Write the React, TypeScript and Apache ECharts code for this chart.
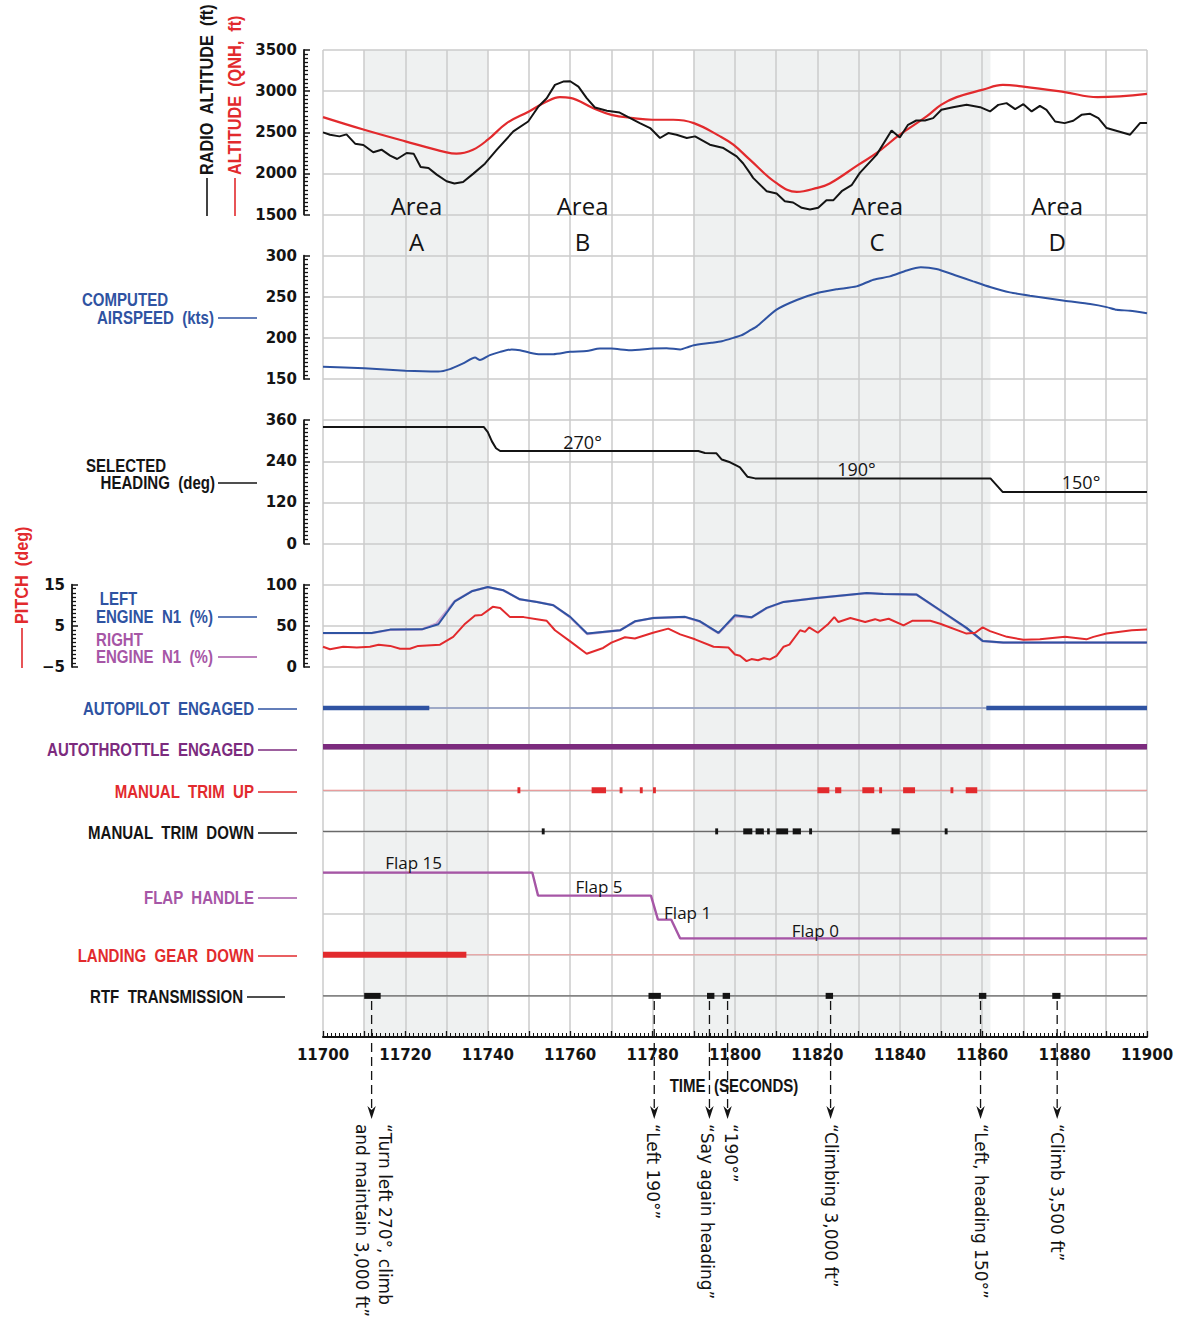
import React, { useEffect, useRef } from 'react';
import * as echarts from 'echarts';

// ---------------- DATA ----------------
const TIME_MIN = 11700;
const TIME_MAX = 11900;
const timeTickLabels = [11700, 11720, 11740, 11760, 11780, 11800, 11820, 11840, 11860, 11880, 11900];

const altitudeTicks = [1500, 2000, 2500, 3000, 3500];
const airspeedTicks = [150, 200, 250, 300];
const headingTicks = [0, 120, 240, 360];
const n1Ticks = [0, 50, 100];
const pitchTicks = [-5, 5, 15];

const areaNames = ['A', 'B', 'C', 'D'];
const areaLabelTimes = [11722.7, 11763, 11834.5, 11878.2];
const shadedAreas: [number, number][] = [[11710, 11740], [11790, 11862]];

const radioAltitude: [number, number][] = [
  [11700, 2498], [11701.7, 2470], [11704, 2450], [11705.7, 2474], [11707.8, 2361], [11709.8, 2345],
  [11712.2, 2256], [11714.2, 2288], [11716.3, 2215], [11718, 2175], [11720.3, 2248], [11722, 2240],
  [11723.7, 2078], [11725.6, 2066], [11727.6, 1985], [11730, 1904], [11731.9, 1876], [11734, 1896],
  [11736.5, 1997], [11739.3, 2118], [11742.2, 2288], [11746.2, 2510], [11749.8, 2631], [11752.3, 2813],
  [11754.3, 2914], [11756.3, 3076], [11758.3, 3116], [11760, 3120], [11762, 3055], [11764, 2914],
  [11766, 2801], [11768.9, 2761], [11772, 2740], [11774.1, 2684], [11776.9, 2611], [11779.4, 2551],
  [11781.8, 2430], [11783.8, 2490], [11785.8, 2470], [11788.3, 2430], [11790.3, 2450], [11793.9, 2349],
  [11797.2, 2308], [11800.4, 2207], [11802, 2120], [11803.6, 2006], [11804.4, 1945], [11807.7, 1783],
  [11810.1, 1755], [11812.1, 1662], [11814.1, 1646], [11816.2, 1581], [11818.2, 1561], [11820.2, 1581],
  [11822.2, 1674], [11823.9, 1674], [11825.9, 1783], [11828.3, 1856], [11830.3, 2006], [11834.4, 2228],
  [11838, 2522], [11840, 2437], [11842, 2591], [11844, 2643], [11846.1, 2643], [11848.1, 2672],
  [11850.1, 2773], [11852.9, 2805], [11856.2, 2833], [11859.5, 2805], [11861.9, 2753], [11863.9, 2833],
  [11865.9, 2854], [11868, 2781], [11870, 2841], [11872, 2753], [11874, 2821], [11875.6, 2773],
  [11877.7, 2631], [11880, 2611], [11882.1, 2640], [11884.1, 2712], [11886.2, 2724], [11888.2, 2672],
  [11890.2, 2551], [11895.9, 2470], [11898.3, 2611], [11900, 2611],
];

const qnhAltitude: [number, number][] = [
  [11700, 2684], [11710, 2530], [11720, 2389], [11730, 2255], [11732.4, 2240], [11736.4, 2288],
  [11740, 2409], [11744.6, 2611], [11750, 2753], [11754.3, 2874], [11757.5, 2927], [11760, 2918],
  [11765.6, 2793], [11770, 2712], [11775.3, 2672], [11780, 2652], [11785, 2652], [11790, 2611],
  [11796.4, 2450], [11799.6, 2349], [11803.6, 2167], [11810, 1884], [11815, 1775], [11820, 1824],
  [11823, 1876], [11830, 2106], [11834.4, 2248], [11840, 2470], [11846.5, 2692], [11850, 2833],
  [11853.8, 2927], [11860, 3015], [11865, 3076], [11870, 3055], [11880, 2988], [11888, 2927],
  [11900, 2967],
];

const computedAirspeed: [number, number][] = [
  [11700, 165], [11710, 163], [11720, 160], [11728, 159], [11730.8, 162], [11734, 169], [11736.9, 176],
  [11738.1, 173], [11740.5, 179], [11743, 183], [11745.8, 186], [11747.8, 185], [11750.2, 182],
  [11752.7, 180], [11755.9, 180], [11760, 183], [11764, 184], [11767.2, 187], [11770, 187],
  [11774.5, 185], [11780, 187], [11783.4, 187.5], [11786.7, 186], [11788.7, 189], [11790, 191],
  [11794.3, 194], [11796.8, 196], [11799.6, 200], [11801.5, 203], [11803.6, 209], [11805.3, 214],
  [11810, 234], [11815, 246], [11820, 254.5], [11824.6, 259], [11829.5, 262.6], [11833.6, 270.7],
  [11837.6, 274.8], [11841.7, 282], [11845.1, 285.8], [11848.9, 283.7], [11853.8, 275.6],
  [11857.8, 268.7], [11861.9, 261.8], [11866.7, 255.3], [11871.6, 251.2], [11880, 245.1],
  [11886.2, 241.1], [11890.2, 237.4], [11892.6, 234.1], [11895.9, 233], [11900, 230],
];

const selectedHeading: [number, number][] = [
  [11700, 340], [11739, 340], [11740, 325], [11741, 298], [11742, 278], [11743, 270], [11791.1, 270],
  [11792.7, 264], [11795.5, 263], [11796.8, 245], [11798.8, 237], [11800.4, 227], [11801.2, 222],
  [11803, 195], [11804.9, 190], [11862, 190], [11865, 150], [11900, 150],
];
const headingLabels = ['270°', '190°', '150°'];
const headingLabelTimes = [11763, 11829.5, 11884];

const leftN1: [number, number][] = [
  [11700, 41.3], [11711.8, 41.3], [11716.3, 45.3], [11724, 45.6], [11728, 51.8], [11732, 79.7],
  [11736.1, 91.9], [11740, 97.2], [11743.8, 93.1], [11747.8, 82.1], [11751.9, 79], [11755.9, 74.9],
  [11760, 60.8], [11764.1, 40.5], [11772.1, 44.5], [11775.7, 55.4], [11780.2, 59.5], [11787.9, 60.8],
  [11791.5, 55.4], [11796, 41.3], [11800, 62.7], [11804, 60.3], [11807.7, 71.7], [11811.8, 79],
  [11819.9, 83.8], [11832, 89.9], [11836, 88.7], [11844.1, 87.9], [11849.8, 68.8], [11856.2, 47.4],
  [11860.1, 31.6], [11865.1, 29.5], [11900, 29.5],
];

const rightN1: [number, number][] = [
  [11700, 41], [11711.8, 41], [11716.3, 45], [11724, 45.6], [11727.5, 52.5], [11732, 80],
  [11736.1, 92], [11740, 97], [11743.8, 93], [11747.8, 82], [11751.9, 79], [11755.9, 75],
  [11760, 60.3], [11764.1, 40], [11772.1, 44.5], [11775.7, 55], [11780.2, 59.5], [11787.9, 60.5],
  [11791.5, 55], [11796, 41], [11800, 61.5], [11804, 60], [11807.7, 71.5], [11811.8, 79],
  [11819.9, 83.8], [11832, 89.7], [11836, 88.7], [11844.1, 87.7], [11849.8, 68.5], [11856.2, 47],
  [11860.1, 31.5], [11865.1, 29.3], [11900, 29.3],
];

const pitch: [number, number][] = [
  [11700, -0.1], [11701.7, -0.7], [11704.9, -0.1], [11708.2, -0.3], [11711.4, -0.1], [11713.5, 0.4],
  [11716.3, 0.1], [11718.7, -0.6], [11721.1, -0.6], [11723.1, 0.1], [11728.4, 0.4], [11731.6, 2.3],
  [11734.5, 5.5], [11736.9, 7.5], [11738.5, 7.6], [11741.2, 9.6], [11743, 9.3], [11745.4, 7.1],
  [11748.7, 7.1], [11751.9, 6.6], [11754.3, 6.2], [11756.3, 3.9], [11760, 1.2], [11764, -1.8],
  [11768, -0.4], [11770, 0.9], [11773.3, 2.2], [11775.7, 1.9], [11780.1, 3.3], [11783.8, 4.3],
  [11786.7, 2.9], [11790.3, 1.7], [11794.8, -0.1], [11798.4, -0.3], [11800, -2.0], [11801.2, -2.3],
  [11802.8, -3.6], [11804, -3.1], [11805.6, -3.4], [11807, -2.9], [11808.5, -3.2], [11810.1, -2.3],
  [11811.8, -0.1], [11813.2, 0.4], [11815.8, 3.9], [11817, 3.5], [11818, 4.6], [11820.1, 3.3],
  [11822.7, 5.5], [11824.1, 7.1], [11825.1, 5.9], [11828, 6.9], [11831.6, 5.9], [11834, 6.6],
  [11835.2, 6.2], [11837.3, 6.7], [11840.9, 5.1], [11843, 6.2], [11847.4, 6.2], [11849.8, 5.5],
  [11856.2, 3.1], [11858.3, 3.3], [11860.1, 4.6], [11861.9, 3.7], [11866, 2.3], [11870, 1.6],
  [11874, 1.7], [11880.1, 2.3], [11885.3, 1.7], [11887, 2.3], [11890.2, 3.1], [11896.3, 3.9],
  [11900, 4.1],
];

const autopilotEngaged: [number, number][] = [[11700, 11725.8], [11861, 11900]];
const autothrottleEngaged: [number, number][] = [[11700, 11900]];
const manualTrimUp: [number, number][] = [
  [11747.2, 11747.9], [11765.2, 11768.7], [11772, 11772.7], [11776.9, 11777.6], [11780.1, 11780.8],
  [11820, 11822.9], [11824.3, 11825.8], [11830.9, 11833.8], [11835, 11835.7], [11840.8, 11843.7],
  [11852.3, 11853], [11856, 11858.8],
];
const manualTrimDown: [number, number][] = [
  [11753.1, 11753.8], [11795.2, 11795.9], [11802, 11804.2], [11805, 11807], [11807.8, 11808.4],
  [11810, 11812.9], [11814, 11816], [11818, 11818.7], [11838, 11840], [11850.9, 11851.6],
];
const landingGearDown: [number, number][] = [[11700, 11734.8]];
const rtfTransmission: [number, number][] = [
  [11710, 11714], [11779, 11782], [11793.2, 11795], [11797, 11798.8], [11822, 11823.8],
  [11859.2, 11861], [11877, 11879],
];

// flap handle: [time, flap setting]
const flapHandle: [number, number][] = [
  [11700, 15], [11750.8, 15], [11752.2, 5], [11779.6, 5], [11781.3, 1], [11784.5, 1], [11786.7, 0], [11900, 0],
];
const flapSettings = [15, 5, 1, 0];
const flapHandlePositions = [3, 1.95, 0.86, 0]; // detent position for each setting
const flapLabelTimes = [11722, 11767, 11788.5, 11819.5];

const rtfCallTimes = [11711.8, 11780.4, 11793.8, 11798.2, 11823.2, 11859.6, 11878.2];
const rtfCallTexts = [
  '\u201CTurn left 270°, climb\nand maintain 3,000 ft\u201D',
  '\u201CLeft 190°\u201D',
  '\u201CSay again heading\u201D',
  '\u201C190°\u201D',
  '\u201CClimbing 3,000 ft\u201D',
  '\u201CLeft, heading 150°\u201D',
  '\u201CClimb 3,500 ft\u201D',
];

// ---------------- LAYOUT / STYLE ----------------
const GL = 323;
const GR = 32;
const ROW = 41.125;
const TOP = 50;
const FONT_NUM = '"DejaVu Sans", sans-serif';
const FONT_LBL = '"Liberation Sans", Arial, sans-serif';
const FONT_ANN = '"Open Sans", "Noto Sans", sans-serif';
const LBL_FONT = `bold 17.5px ${FONT_LBL}`;
const LBL_SCALE = 0.86;
const LBL_SCALE_ROT = 0.93;
const C_BLACK = '#141414';
const C_RED = '#e22a2d';
const C_BLUE = '#2f53a2';
const C_PURPLE = '#7c2b7e';
const C_PINK = '#a656a6';
const C_GRID = '#cbcbcb';

const ROW_AUTOPILOT = 8;
const ROW_AUTOTHROTTLE = 7.06;
const ROW_TRIM_UP = 6;
const ROW_TRIM_DOWN = 5;
const ROW_GEAR = 2;
const ROW_RTF = 1;

const numLabel = { color: C_BLACK, fontSize: 15, fontWeight: 'bold', fontFamily: FONT_NUM };

function panelYAxis(gridIndex: number, ticks: number[], offset: number, fmt?: (v: number) => string) {
  return {
    type: 'value',
    gridIndex,
    position: 'left',
    offset,
    min: ticks[0],
    max: ticks[ticks.length - 1],
    interval: ticks[1] - ticks[0],
    axisLine: { show: true, lineStyle: { color: C_BLACK, width: 1.8 } },
    axisTick: { show: true, inside: true, length: 6, lineStyle: { color: C_BLACK, width: 1.5 } },
    minorTick: { show: true, splitNumber: 10, length: 4, lineStyle: { color: C_BLACK, width: 1.3 } },
    axisLabel: { ...numLabel, margin: 7, formatter: fmt || ((v: number) => String(v)) },
    splitLine: { show: false },
    minorSplitLine: { show: false },
  };
}

function hiddenXAxis(gridIndex: number) {
  return { type: 'value', gridIndex, min: TIME_MIN, max: TIME_MAX, show: false };
}

function intervalSeries(intervals: [number, number][], row: number, color: string, height: number) {
  return {
    type: 'custom',
    xAxisIndex: 0,
    yAxisIndex: 0,
    z: 6,
    silent: true,
    data: intervals.map(([s, e]) => [s, e, row]),
    encode: { x: [0, 1], y: 2 },
    renderItem: (_p: any, api: any) => {
      const p0 = api.coord([api.value(0), api.value(2)]);
      const p1 = api.coord([api.value(1), api.value(2)]);
      return {
        type: 'rect',
        shape: { x: p0[0], y: p0[1] - height / 2, width: Math.max(p1[0] - p0[0], 2.6), height },
        style: { fill: color },
      };
    },
  };
}

function baseLine(row: number, color: string, width: number) {
  return {
    type: 'line',
    xAxisIndex: 0,
    yAxisIndex: 0,
    z: 5,
    silent: true,
    symbol: 'none',
    data: [[TIME_MIN, row], [TIME_MAX, row]],
    lineStyle: { color, width },
  };
}

function txt(text: string, x: number, y: number, fill: string, font: string, align = 'left', extra: any = {}) {
  return {
    type: 'text',
    x,
    y,
    z: 20,
    silent: true,
    ...extra,
    style: { text, fill, font, textAlign: align, textVerticalAlign: 'middle', align, verticalAlign: 'middle' },
  };
}

// condensed label (scaled horizontally along its reading direction)
function lbl(text: string, x: number, y: number, fill: string, align = 'left', rotation = 0) {
  const scaleX = rotation ? LBL_SCALE_ROT : LBL_SCALE;
  return txt(text, x, y, fill, LBL_FONT, align, { rotation, scaleX, scaleY: 1 });
}

function hline(x1: number, x2: number, y: number, stroke: string) {
  return { type: 'line', z: 20, silent: true, shape: { x1, y1: y, x2, y2: y }, style: { stroke, lineWidth: 1.6 } };
}
function vline(x: number, y1: number, y2: number, stroke: string) {
  return { type: 'line', z: 20, silent: true, shape: { x1: x, y1, x2: x, y2 }, style: { stroke, lineWidth: 1.6 } };
}

function timeToX(t: number) {
  return GL + ((t - TIME_MIN) / (TIME_MAX - TIME_MIN)) * (1179 - GL - GR);
}

export default function App() {
  const ref = useRef<HTMLDivElement>(null);

  useEffect(() => {
    document.body.style.margin = '0';
    if (!ref.current) return;
    const chart = echarts.init(ref.current, undefined, { renderer: 'svg' });

    const annFont = `24px ${FONT_ANN}`;
    const smallAnn = `17px ${FONT_ANN}`;

    const flapData = flapHandle.map(([t, f]) => [t, flapHandlePositions[flapSettings.indexOf(f)]]);

    const graphics: any[] = [
      // rotated altitude labels
      lbl('RADIO  ALTITUDE  (ft)', 207, 175, C_BLACK, 'left', Math.PI / 2),
      vline(207, 178, 216, C_BLACK),
      lbl('ALTITUDE  (QNH,  ft)', 235, 175, C_RED, 'left', Math.PI / 2),
      vline(235, 178, 216, C_RED),
      // airspeed
      lbl('COMPUTED', 125, 300, C_BLUE, 'center'),
      lbl('AIRSPEED  (kts)', 214, 318, C_BLUE, 'right'),
      hline(218, 257, 318, C_BLUE),
      // heading
      lbl('SELECTED', 126, 466, C_BLACK, 'center'),
      lbl('HEADING  (deg)', 215, 483, C_BLACK, 'right'),
      hline(218, 257, 483, C_BLACK),
      // engines
      lbl('LEFT', 118.5, 599, C_BLUE, 'center'),
      lbl('ENGINE  N1  (%)', 213, 617, C_BLUE, 'right'),
      hline(218, 257, 617, C_BLUE),
      lbl('RIGHT', 119.5, 640, C_PINK, 'center'),
      lbl('ENGINE  N1  (%)', 213, 657, C_PINK, 'right'),
      hline(218, 257, 657, C_PINK),
      // pitch
      lbl('PITCH  (deg)', 22, 624, C_RED, 'left', Math.PI / 2),
      vline(22, 628, 668, C_RED),
      // discrete labels
      lbl('AUTOPILOT  ENGAGED', 254, 709, C_BLUE, 'right'),
      hline(258, 297, 709, C_BLUE),
      lbl('AUTOTHROTTLE  ENGAGED', 254, 750, C_PURPLE, 'right'),
      hline(258, 297, 750, C_PURPLE),
      lbl('MANUAL  TRIM  UP', 254, 792, C_RED, 'right'),
      hline(258, 297, 792, C_RED),
      lbl('MANUAL  TRIM  DOWN', 254, 833, C_BLACK, 'right'),
      hline(258, 297, 833, C_BLACK),
      lbl('FLAP  HANDLE', 254, 898, C_PINK, 'right'),
      hline(258, 297, 898, C_PINK),
      lbl('LANDING  GEAR  DOWN', 254, 956, C_RED, 'right'),
      hline(258, 297, 956, C_RED),
      lbl('RTF  TRANSMISSION', 243, 997, C_BLACK, 'right'),
      hline(247, 285, 997, C_BLACK),
      lbl('TIME  (SECONDS)', 734, 1086, C_BLACK, 'center'),
    ];

    areaNames.forEach((n, i) => {
      const x = timeToX(areaLabelTimes[i]);
      graphics.push(txt('Area', x, 205, C_BLACK, annFont, 'center'));
      graphics.push(txt(n, x, 241, C_BLACK, annFont, 'center'));
    });
    const headingLabelY = [442, 468.5, 481.5];
    headingLabels.forEach((l, i) => {
      graphics.push(txt(l, timeToX(headingLabelTimes[i]), headingLabelY[i], C_BLACK, `18px ${FONT_ANN}`, 'center'));
    });
    const flapLabelY = [862, 886, 912, 930];
    flapSettings.forEach((f, i) => {
      graphics.push(txt(`Flap ${f}`, timeToX(flapLabelTimes[i]), flapLabelY[i], C_BLACK, smallAnn, 'center'));
    });

    const rtfTextDx = [1.8, -1.5, -2.3, 3, 0, 0, 0];

    const option: any = {
      animation: false,
      backgroundColor: '#ffffff',
      grid: [
        { left: GL, right: GR, top: TOP, height: ROW * 24 },
        { left: GL, right: GR, top: TOP, height: ROW * 4 },
        { left: GL, right: GR, top: TOP + ROW * 5, height: ROW * 3 },
        { left: GL, right: GR, top: TOP + ROW * 9, height: ROW * 3 },
        { left: GL, right: GR, top: TOP + ROW * 13, height: ROW * 2 },
        { left: GL, right: GR, top: TOP + ROW * 20, height: 66 },
      ],
      xAxis: [
        {
          type: 'value',
          gridIndex: 0,
          min: TIME_MIN,
          max: TIME_MAX,
          interval: 10,
          z: 3,
          axisLine: { show: true, onZero: false, lineStyle: { color: C_BLACK, width: 2 } },
          axisTick: { show: true, inside: true, length: 6, lineStyle: { color: C_BLACK, width: 1.3 } },
          minorTick: { show: true, splitNumber: 10, length: 4, lineStyle: { color: C_BLACK, width: 1 } },
          axisLabel: {
            ...numLabel,
            margin: 10,
            formatter: (v: number) => (timeTickLabels.includes(v) ? String(v) : ''),
          },
          splitLine: { show: true, lineStyle: { color: C_GRID, width: 1.5 } },
        },
        hiddenXAxis(1),
        hiddenXAxis(2),
        hiddenXAxis(3),
        hiddenXAxis(4),
        hiddenXAxis(5),
      ],
      yAxis: [
        {
          type: 'value',
          gridIndex: 0,
          min: 0,
          max: 24,
          interval: 1,
          z: 3,
          axisLine: { show: false },
          axisTick: { show: false },
          axisLabel: { show: false },
          splitLine: { show: true, lineStyle: { color: C_GRID, width: 1.5 } },
        },
        panelYAxis(1, altitudeTicks, 19),
        panelYAxis(2, airspeedTicks, 19),
        panelYAxis(3, headingTicks, 19),
        panelYAxis(4, n1Ticks, 19),
        panelYAxis(4, pitchTicks, 251, (v: number) => (v < 0 ? '\u2212' + Math.abs(v) : String(v))),
        { type: 'value', gridIndex: 5, min: 0, max: 3, show: false },
      ],
      graphic: graphics,
      series: [
        {
          type: 'line',
          xAxisIndex: 0,
          yAxisIndex: 0,
          z: 1,
          silent: true,
          symbol: 'none',
          data: [[TIME_MIN, 0]],
          lineStyle: { width: 0 },
          markArea: {
            silent: true,
            itemStyle: { color: '#eff1f1' },
            data: shadedAreas.map(([a, b]) => [{ xAxis: a }, { xAxis: b }]),
          },
        },
        {
          type: 'line', xAxisIndex: 1, yAxisIndex: 1, z: 5, symbol: 'none', smooth: 0.4,
          data: qnhAltitude, lineStyle: { color: C_RED, width: 2.2 },
        },
        {
          type: 'line', xAxisIndex: 1, yAxisIndex: 1, z: 5, symbol: 'none',
          data: radioAltitude, lineStyle: { color: C_BLACK, width: 2 },
        },
        {
          type: 'line', xAxisIndex: 2, yAxisIndex: 2, z: 5, symbol: 'none', smooth: 0.2,
          data: computedAirspeed, lineStyle: { color: C_BLUE, width: 2 },
        },
        {
          type: 'line', xAxisIndex: 3, yAxisIndex: 3, z: 5, symbol: 'none',
          data: selectedHeading, lineStyle: { color: C_BLACK, width: 2 },
        },
        {
          type: 'line', xAxisIndex: 4, yAxisIndex: 4, z: 5, symbol: 'none',
          data: rightN1, lineStyle: { color: '#c9a4d2', width: 2.4 },
        },
        {
          type: 'line', xAxisIndex: 4, yAxisIndex: 4, z: 5, symbol: 'none',
          data: leftN1, lineStyle: { color: C_BLUE, width: 2 },
        },
        {
          type: 'line', xAxisIndex: 4, yAxisIndex: 5, z: 5, symbol: 'none',
          data: pitch, lineStyle: { color: C_RED, width: 2 },
        },
        {
          type: 'line', xAxisIndex: 5, yAxisIndex: 6, z: 5, symbol: 'none',
          data: flapData, lineStyle: { color: C_PINK, width: 2.4 },
        },
        baseLine(ROW_AUTOPILOT, '#8e9bc2', 1.5),
        baseLine(ROW_TRIM_UP, '#ec8a8a', 1.2),
        baseLine(ROW_TRIM_DOWN, '#6a6a6a', 1.3),
        baseLine(ROW_GEAR, '#ee9a9a', 1.2),
        baseLine(ROW_RTF, '#6a6a6a', 1.3),
        intervalSeries(autopilotEngaged, ROW_AUTOPILOT, C_BLUE, 4.5),
        intervalSeries(autothrottleEngaged, ROW_AUTOTHROTTLE, C_PURPLE, 5.5),
        intervalSeries(manualTrimUp, ROW_TRIM_UP, C_RED, 6),
        intervalSeries(manualTrimDown, ROW_TRIM_DOWN, C_BLACK, 6),
        intervalSeries(landingGearDown, ROW_GEAR, C_RED, 6),
        intervalSeries(rtfTransmission, ROW_RTF, C_BLACK, 6),
        {
          type: 'custom',
          xAxisIndex: 0,
          yAxisIndex: 0,
          z: 6,
          silent: true,
          clip: false,
          data: rtfCallTimes.map((t) => [t, ROW_RTF]),
          encode: { x: 0, y: 1 },
          renderItem: (params: any, api: any) => {
            const [x, yRow] = api.coord([api.value(0), api.value(1)]);
            const yTop = yRow + 5;
            const yTip = yRow + 123;
            const i = params.dataIndex;
            return {
              type: 'group',
              children: [
                {
                  type: 'line',
                  shape: { x1: x, y1: yTop, x2: x, y2: yTip - 8 },
                  style: { stroke: C_BLACK, lineWidth: 1.3, lineDash: [9, 5] },
                },
                {
                  type: 'polygon',
                  shape: { points: [[x - 4.2, yTip - 13], [x, yTip], [x + 4.2, yTip - 13], [x, yTip - 9]] },
                  style: { fill: C_BLACK },
                },
                {
                  type: 'text',
                  x: x + rtfTextDx[i],
                  y: yTip + 5,
                  rotation: -Math.PI / 2,
                  style: {
                    text: rtfCallTexts[i],
                    fill: C_BLACK,
                    font: `17px ${FONT_NUM}`,
                    textAlign: 'left',
                    textVerticalAlign: 'middle',
                    align: 'left',
                    verticalAlign: 'middle',
                    lineHeight: 23,
                  },
                },
              ],
            };
          },
        },
      ],
    };

    chart.setOption(option);
    return () => chart.dispose();
  }, []);

  return <div ref={ref} style={{ width: 1179, height: 1318 }} />;
}
